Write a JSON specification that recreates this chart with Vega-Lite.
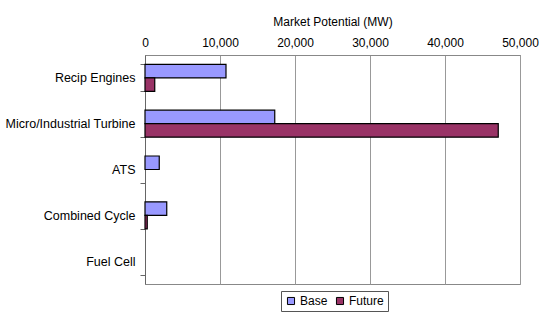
{
  "$schema": "https://vega.github.io/schema/vega-lite/v6.json",
  "width": 375,
  "height": 229,
  "autosize": {"type": "none"},
  "padding": {"left": 145, "top": 55, "right": 30, "bottom": 38},
  "background": "white",
  "config": {
    "font": "Liberation Sans",
    "view": {"stroke": "#888888", "strokeWidth": 1}
  },
  "data": {
    "values": [
      {"tech": "Recip Engines", "scenario": "Base", "mw": 10800},
      {"tech": "Recip Engines", "scenario": "Future", "mw": 1300},
      {"tech": "Micro/Industrial Turbine", "scenario": "Base", "mw": 17300},
      {"tech": "Micro/Industrial Turbine", "scenario": "Future", "mw": 47100},
      {"tech": "ATS", "scenario": "Base", "mw": 1900},
      {"tech": "ATS", "scenario": "Future", "mw": 0},
      {"tech": "Combined Cycle", "scenario": "Base", "mw": 2900},
      {"tech": "Combined Cycle", "scenario": "Future", "mw": 300},
      {"tech": "Fuel Cell", "scenario": "Base", "mw": 0},
      {"tech": "Fuel Cell", "scenario": "Future", "mw": 0}
    ]
  },
  "mark": {"type": "bar", "stroke": "black", "strokeWidth": 1.2},
  "encoding": {
    "x": {
      "field": "mw",
      "type": "quantitative",
      "scale": {"domain": [0, 50000], "nice": false},
      "axis": {
        "orient": "top",
        "title": "Market Potential (MW)",
        "titleFontSize": 12,
        "titleFontWeight": "normal",
        "titleColor": "black",
        "titlePadding": 8,
        "labelFontSize": 12,
        "labelColor": "black",
        "labelPadding": 6,
        "values": [0, 10000, 20000, 30000, 40000, 50000],
        "format": ",d",
        "ticks": false,
        "labelOverlap": false,
        "labelFlush": false,
        "domainColor": "#888888",
        "gridColor": "#999999",
        "gridOpacity": 1
      }
    },
    "y": {
      "field": "tech",
      "type": "nominal",
      "sort": ["Recip Engines", "Micro/Industrial Turbine", "ATS", "Combined Cycle", "Fuel Cell"],
      "scale": {"paddingInner": 0.41, "paddingOuter": 0.205},
      "axis": {
        "title": null,
        "labelFontSize": 12.5,
        "labelColor": "black",
        "labelPadding": 5,
        "tickBand": "extent",
        "tickSize": 5,
        "tickColor": "#666666",
        "domainColor": "#666666",
        "grid": false
      }
    },
    "yOffset": {
      "field": "scenario",
      "type": "nominal",
      "sort": ["Base", "Future"],
      "scale": {"paddingInner": 0, "paddingOuter": 0}
    },
    "strokeOpacity": {
      "condition": {"test": "datum.mw > 0", "value": 1},
      "value": 0
    },
    "color": {
      "field": "scenario",
      "type": "nominal",
      "sort": ["Base", "Future"],
      "scale": {"domain": ["Base", "Future"], "range": ["#9999FF", "#993366"]},
      "legend": {
        "title": null,
        "orient": "none",
        "direction": "horizontal",
        "legendX": 136,
        "legendY": 236,
        "strokeColor": "#555555",
        "padding": 4,
        "symbolType": "square",
        "symbolSize": 50,
        "symbolStrokeColor": "black",
        "symbolStrokeWidth": 1,
        "symbolOpacity": 1,
        "labelFontSize": 12,
        "labelColor": "black",
        "labelOffset": 3,
        "columnPadding": 6
      }
    }
  }
}
